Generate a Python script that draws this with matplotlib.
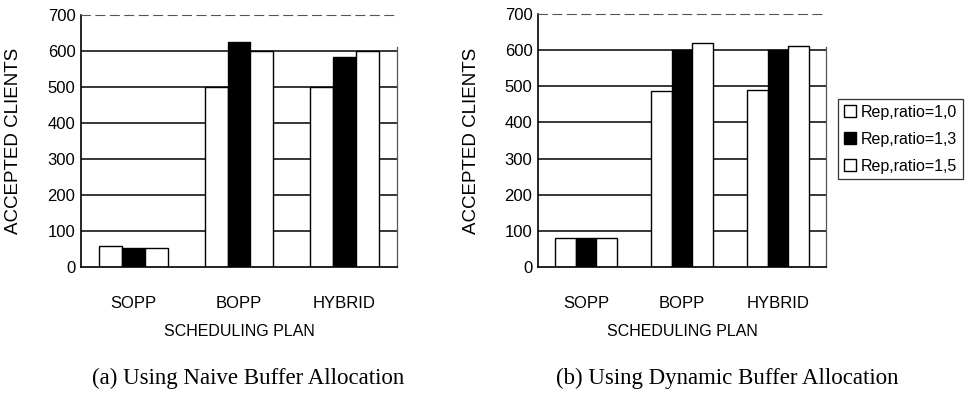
import matplotlib
matplotlib.use("Agg")
import matplotlib.pyplot as plt
import numpy as np
from matplotlib.patches import Patch

plans = ["SOPP", "BOPP", "HYBRID"]
series_labels = ["Rep,ratio=1,0", "Rep,ratio=1,3", "Rep,ratio=1,5"]
naive = {
    "1.0": [57, 500, 500],
    "1.3": [52, 625, 583],
    "1.5": [52, 600, 600],
}
dynamic = {
    "1.0": [80, 488, 490],
    "1.3": [80, 600, 600],
    "1.5": [80, 620, 612],
}
yticks = [0, 100, 200, 300, 400, 500, 600, 700]
captions = ["(a) Using Naive Buffer Allocation", "(b) Using Dynamic Buffer Allocation"]
ylabel = "ACCEPTED CLIENTS"
xlabel = "SCHEDULING PLAN"

sans = ["Liberation Sans Narrow", "Liberation Sans", "DejaVu Sans"]
serif = ["Liberation Serif", "DejaVu Serif"]

fig = plt.figure(figsize=(9.71, 3.99), dpi=100)
W, H = 971, 399

def fx(px):
    return px / W

def fy(py):
    return 1 - py / H

axes_px = [(81, 397, 15, 267), (538, 826, 14, 267)]
ylabel_x = [22, 480]
fills = ["white", "black", "white"]
bw = 0.217

for i, (data, (x0, x1, ytop, ybot)) in enumerate(zip([naive, dynamic], axes_px)):
    ax = fig.add_axes([fx(x0), fy(ybot), (x1 - x0) / W, (ybot - ytop) / H])
    x = np.arange(len(plans))
    for h in [100, 200, 300, 400, 500, 600]:
        ax.axhline(h, color="black", lw=1.1, zorder=1)
    for j, key in enumerate(["1.0", "1.3", "1.5"]):
        ax.bar(x + (j - 1) * bw, data[key], width=bw, color=fills[j],
               edgecolor="black", linewidth=1.0, zorder=2)
    ax.set_xlim(-0.5, 2.5)
    ax.set_ylim(0, 700)
    ax.set_yticks(yticks)
    ax.set_yticklabels([str(t) for t in yticks], family=sans, fontsize=12)
    ax.set_xticks(x)
    ax.set_xticklabels(plans, family=sans, fontsize=12)
    ax.tick_params(axis="both", length=0)
    ax.tick_params(axis="x", pad=21)
    ax.tick_params(axis="y", pad=4)
    ax.set_ylabel(ylabel, family=sans, fontsize=13.5)
    ax.set_xlabel(xlabel, family=sans, fontsize=11.5)
    ax.yaxis.set_label_coords((ylabel_x[i] - x0) / (x1 - x0), 0.5)
    ax.xaxis.set_label_coords(0.5, (ybot - 324) / (ybot - ytop))
    for s in ["left", "bottom"]:
        ax.spines[s].set_color("black")
        ax.spines[s].set_linewidth(1.2)
    ax.spines["top"].set_color("#555555")
    ax.spines["top"].set_linestyle((0, (8, 5)))
    ax.spines["top"].set_linewidth(0.8)
    ax.spines["right"].set_color("#555555")
    ax.spines["right"].set_linewidth(0.9)
    ax.spines["right"].set_bounds(0, 610)

fig.text(fx(248), fy(378), captions[0], family=serif, fontsize=16.5, ha="center", va="center")
fig.text(fx(727), fy(378), captions[1], family=serif, fontsize=16.5, ha="center", va="center")

handles = [Patch(facecolor=c, edgecolor="black", linewidth=1.0) for c in fills]
leg = fig.legend(handles, series_labels, loc="upper left",
                 bbox_to_anchor=(fx(838), fy(99)), frameon=True, fancybox=False,
                 prop={"family": sans, "size": 11.5}, handlelength=0.8, handleheight=0.8,
                 handletextpad=0.3, borderpad=0.35, labelspacing=0.75, borderaxespad=0)
leg.get_frame().set_edgecolor("black")
leg.get_frame().set_linewidth(0.9)

fig.savefig("out.png", dpi=100)
